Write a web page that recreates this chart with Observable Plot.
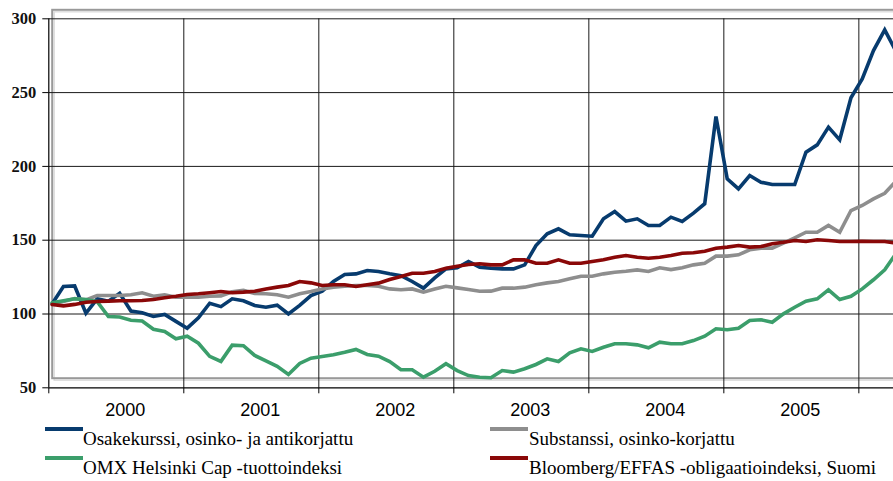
<!DOCTYPE html>
<html><head><meta charset="utf-8">
<script src="https://cdn.jsdelivr.net/npm/d3@7"></script>
<script src="https://cdn.jsdelivr.net/npm/@observablehq/plot@0.6"></script>
<style>
body{margin:0;background:#fff;}
#wrap{position:relative;width:893px;height:481px;overflow:hidden;background:#fff;}
#wrap svg{position:absolute;left:0;top:0;}
.sw{position:absolute;height:3.5px;width:38px;}
.lt{position:absolute;font-family:"Liberation Serif",serif;font-size:19px;line-height:19px;color:#000;white-space:nowrap;}
</style></head><body><div id="wrap"></div>
<script>
// Year labels, y ticks
const yearLabels = ["2000","2001","2002","2003","2004","2005"];
const yTicks = [50,100,150,200,250,300];
const yGrid = [100,150,200,250,300];

// Series names & colours (legend order)
const seriesNames = [
  "Osakekurssi, osinko- ja antikorjattu",
  "Substanssi, osinko-korjattu",
  "OMX Helsinki Cap -tuottoindeksi",
  "Bloomberg/EFFAS -obligaatioindeksi, Suomi"
];
const seriesColors = ["#073b6e","#8e8e8e","#3b9e6b","#8a0808"];

// Monthly values from Jan 2000
const osake = [107,118.6,119,100.5,110.3,108.7,114,102,100.8,98.3,
  99.7,95,90.4,97.4,107.3,105,110.3,109,105.8,104.6,
  106,100,105.8,112.5,115.4,122,126.8,127.2,129.5,128.8,
  127.2,126,122,117.5,124.5,130.6,131.3,135.6,131.7,131,
  130.6,130.6,133.3,146.4,154.3,157.7,153.7,153.2,152.7,164.5,
  169.4,162.9,164.5,160,160,165.6,162.7,168.3,174.7,233.8,
  191.6,184.8,193.8,189.3,187.7,187.7,187.7,209.6,214.6,226.6,
  218,246.5,259.3,278.5,292.5,278];
const substanssi = [107,108.5,110.5,109.6,112.5,112.5,112.5,113,114.4,112,
  113,111.4,111.4,111.4,112,112.3,115,116,114,113.7,
  113,111.4,113.7,115.2,117,118.2,118.8,119.3,119.3,118.8,
  117,116.4,117,114.8,117,118.8,117.7,116.6,115.4,115.5,
  117.5,117.5,118.2,119.8,121.1,122,123.8,125.6,125.6,127.2,
  128.3,129,129.9,128.8,131.3,130.1,131.3,133.3,134.4,139.2,
  139.2,140.1,143.5,144.6,144.6,148,151.6,155.4,155.4,160,
  155.4,170.1,173.5,178,181.8,190];
const omx = [107.6,109,110.3,109.8,108.3,98.3,98,95.8,95.3,89.7,
  88.2,83.2,84.9,80.2,71.3,67.9,78.9,78.5,71.9,68.2,
  64.6,59,66.5,70.1,71.2,72.4,74.1,76,72.6,71.4,
  67.8,62.2,62.2,57.2,61.2,66.3,61.7,58.3,57.2,56.8,
  61.7,60.6,62.9,65.8,69.6,67.8,73.7,76.4,74.6,77.5,
  79.8,79.8,79.1,77.1,80.9,79.8,79.8,82,85,90,
  89.3,90.4,95.6,96.1,94.4,100.1,104.6,108.7,110.3,116.4,
  109.8,112,117,123.2,129.9,141];
const bloomberg = [106.4,105.5,106.5,108,108.5,108.7,109,109,109.1,109.8,
  111,112,113.2,113.7,114.4,115.2,114.4,114.8,115.4,117,
  118.2,119.3,122,121.1,119.3,119.8,119.8,118.6,119.8,120.9,
  123.4,125.4,127.6,127.6,128.8,131,132.4,133.5,134,133.3,
  133.3,136.7,136.7,134.4,134.4,136.7,134.4,134.4,135.6,136.7,
  138.5,139.6,138.5,137.8,138.5,139.6,141.2,141.5,142.5,144.6,
  145.3,146.4,145.3,145.7,147.6,148.6,149.8,149.1,150.3,149.8,
  149.1,149.1,149.3,149.1,149.1,148];

const allSeries = [osake, substanssi, omx, bloomberg];
const rows = [];
allSeries.forEach((vals, k) => vals.forEach((v, i) => rows.push({series: seriesNames[k], t: i + 0.3, v})));

const yearStarts = yearLabels.map((d, i) => i * 12).concat([yearLabels.length * 12]);
const yearMids = yearLabels.map((d, i) => i * 12 + 6);

const chart = Plot.plot({
  width: 893, height: 420,
  marginLeft: 48.3, marginRight: 0, marginTop: 18.3, marginBottom: 32.7,
  x: {domain: [0, 75.08]},
  y: {domain: [50, 300]},
  color: {domain: seriesNames, range: seriesColors},
  style: {background: "transparent", color: "#000", overflow: "visible"},
  marks: [
    Plot.frame({stroke: "#dedede", strokeWidth: 1.5, insetTop: -7, insetLeft: 5.4, insetBottom: 7.6, insetRight: -10}),
    Plot.frame({stroke: "#999", strokeWidth: 2, insetTop: -9, insetLeft: 3.4, insetBottom: 9.6, insetRight: -10}),
    Plot.ruleY(yGrid, {stroke: "#1a1a1a", strokeWidth: 1}),
    Plot.ruleX(yearStarts.slice(1), {stroke: "#1a1a1a", strokeWidth: 1}),
    Plot.line(rows, {x: "t", y: "v", z: "series", stroke: "series", strokeWidth: 3.6, clip: true, strokeLinejoin: "miter", strokeMiterlimit: 3}),
    Plot.ruleY([50], {stroke: "#000", strokeWidth: 1.2}),
    Plot.ruleX([0], {stroke: "#000", strokeWidth: 1.2}),
    Plot.axisY({ticks: yTicks, tickSize: 6, label: null, tickFormat: () => ""}),
    Plot.text(yTicks, {x: () => 0, y: d => d, text: d => String(d), textAnchor: "end", dx: -12.5,
      fontFamily: "Liberation Serif", fontSize: 16.5, fontWeight: "bold", fill: "#111"}),
    Plot.axisX({ticks: yearStarts, tickSize: 6, tickFormat: () => "", label: null}),
    Plot.text(yearMids, {x: d => d, y: () => 50, text: d => yearLabels[Math.floor(d / 12)], dx: 9, dy: 22,
      fontFamily: "Liberation Sans", fontSize: 18, fill: "#000", clip: false})
  ]
});
const wrap = document.getElementById("wrap");
wrap.appendChild(chart);

// Legend (2 columns x 2 rows)
const legendPos = [
  {sx: 45, tx: 83, row: 0},
  {sx: 490, tx: 529, row: 0},
  {sx: 45, tx: 83, row: 1},
  {sx: 490, tx: 529, row: 1}
];
const rowSwatchTop = [427, 456];
const rowTextTop = [429.2, 457.5];
seriesNames.forEach((name, k) => {
  const p = legendPos[k];
  const sw = document.createElement("div");
  sw.className = "sw";
  sw.style.left = p.sx + "px";
  sw.style.top = rowSwatchTop[p.row] + "px";
  sw.style.background = seriesColors[k];
  wrap.appendChild(sw);
  const t = document.createElement("div");
  t.className = "lt";
  t.style.left = p.tx + "px";
  t.style.top = rowTextTop[p.row] + "px";
  t.textContent = name;
  wrap.appendChild(t);
});
</script>
</body></html>
